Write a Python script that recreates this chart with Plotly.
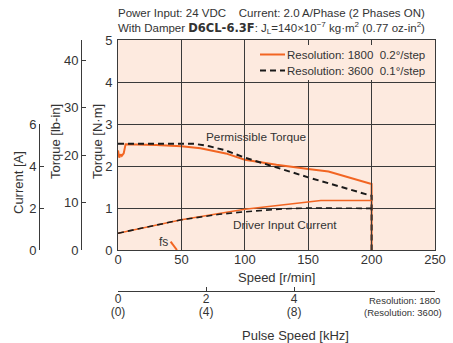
import plotly.graph_objects as go

# ---- data -------------------------------------------------------------
# Pull-out torque [N·m] vs speed [r/min]
speed_1800 = [0, 1, 2, 3, 4.5, 6, 30, 50, 65, 85, 100, 125, 150, 166, 200, 200]
torque_1800 = [2.37, 2.20, 2.28, 2.24, 2.30, 2.52, 2.50, 2.47, 2.42, 2.30, 2.15, 2.03, 1.93, 1.87, 1.57, 0]
speed_3600 = [0, 60, 72, 85, 100, 125, 150, 175, 200, 200]
torque_3600 = [2.53, 2.53, 2.47, 2.37, 2.20, 1.96, 1.73, 1.51, 1.29, 0]

# Driver input current [A] vs speed [r/min]
cur_speed_1800 = [0, 50, 100, 150, 160, 200]
current_1800 = [0.80, 1.44, 1.94, 2.30, 2.36, 2.36]
cur_speed_3600 = [0, 50, 80, 100, 130, 150, 200]
current_3600 = [0.80, 1.44, 1.70, 1.82, 1.96, 2.00, 1.98]

# Starting pulse rate (fs) mark
fs_speed = [41.5, 46.5]
fs_torque = [0.2, 0]

speed_ticks = [0, 50, 100, 150, 200, 250]
torque_ticks = [0, 1, 2, 3, 4, 5]
lbin_ticks = [0, 10, 20, 30, 40]
current_ticks = [0, 2, 4, 6]
pulse_ticks = [0, 2, 4]
pulse_labels_1800 = ["0", "2", "4"]
pulse_labels_3600 = ["(0)", "(4)", "(8)"]

NM_TO_LBIN = 8.8507

# ---- style ------------------------------------------------------------
ORANGE = "#F26522"
BLACK = "#1a1a1a"
TXT = "#333333"
GRID = "#3a3a3a"
BG = "#FDEADF"
FONT = "Liberation Sans, Arial, sans-serif"

W, H = 453, 343
ML, MR, MT, MB = 0, 18, 40, 0
PW, PH = W - ML - MR, H - MT - MB


def px(x):
    return (x - ML) / PW


def py(y):
    return (H - MB - y) / PH


XD0 = px(118)
YD0 = py(250)
YD_CUR_TOP = py(124)

fig = go.Figure()

fig.add_trace(go.Scatter(x=speed_1800, y=torque_1800, mode="lines",
                         line=dict(color=ORANGE, width=2), showlegend=False))
fig.add_trace(go.Scatter(x=speed_3600, y=torque_3600, mode="lines",
                         line=dict(color=BLACK, width=2, dash="6px,4px"), showlegend=False))
fig.add_trace(go.Scatter(x=fs_speed, y=fs_torque, mode="lines",
                         line=dict(color=ORANGE, width=2), showlegend=False))
fig.add_trace(go.Scatter(x=cur_speed_1800, y=current_1800, yaxis="y4", mode="lines",
                         line=dict(color=ORANGE, width=1.4), showlegend=False))
fig.add_trace(go.Scatter(x=cur_speed_3600, y=current_3600, yaxis="y4", mode="lines",
                         line=dict(color=BLACK, width=1.6, dash="6px,4px"), showlegend=False))
# empty traces so the auxiliary axes are drawn
fig.add_trace(go.Scatter(x=[], y=[], yaxis="y2", showlegend=False))
fig.add_trace(go.Scatter(x=[], y=[], xaxis="x2", showlegend=False))
fig.add_trace(go.Scatter(x=[], y=[], xaxis="x3", showlegend=False))

tickfont = dict(family=FONT, size=13, color=TXT)
pulsefont = dict(family=FONT, size=12, color=TXT)
common = dict(automargin=False, zeroline=False)

fig.update_layout(
    template="none",
    width=W, height=H,
    margin=dict(l=ML, r=MR, t=MT, b=MB, pad=0, autoexpand=False),
    paper_bgcolor="white",
    plot_bgcolor="rgba(0,0,0,0)",
    font=dict(family=FONT, size=12, color=TXT),
    showlegend=False,
    xaxis=dict(domain=[XD0, 1], range=[0, 250], tickvals=speed_ticks,
               showgrid=True, gridcolor=GRID, gridwidth=1,
               showline=True, linecolor=GRID, linewidth=1, mirror=True,
               ticks="", ticklabelstandoff=-3, anchor="y", tickfont=tickfont, **common),
    yaxis=dict(domain=[YD0, 1], range=[0, 5], tickvals=torque_ticks,
               showgrid=True, gridcolor=GRID, gridwidth=1,
               showline=True, linecolor=GRID, linewidth=1, mirror=True,
               ticks="", ticklabelstandoff=2, anchor="x", tickfont=tickfont, **common),
    yaxis2=dict(overlaying="y", anchor="free", position=px(81), side="left",
                range=[0, 5 * NM_TO_LBIN], tickvals=lbin_ticks,
                showgrid=False, showline=True, linecolor=GRID, linewidth=1,
                ticks="inside", ticklen=4, tickcolor=GRID, tickfont=tickfont, **common),
    yaxis4=dict(domain=[YD0, YD_CUR_TOP], anchor="free", position=px(39), side="left",
                range=[0, 6], tickvals=current_ticks,
                showgrid=False, showline=True, linecolor=GRID, linewidth=1,
                ticks="inside", ticklen=4, tickcolor=GRID, tickfont=tickfont, **common),
    # pulse speed scale, resolution 1800 (upper labels)
    xaxis2=dict(overlaying="x", anchor="free", position=py(291), side="bottom",
                range=[0, 7.2], tickvals=pulse_ticks, ticktext=pulse_labels_1800,
                showgrid=False, showline=True, linecolor=GRID, linewidth=1,
                ticks="inside", ticklen=4, tickcolor=GRID, ticklabelstandoff=-3,
                tickfont=pulsefont, **common),
    # same scale, resolution 3600 (bracketed labels)
    xaxis3=dict(overlaying="x", anchor="free", position=py(291), side="bottom",
                range=[0, 7.2], tickvals=pulse_ticks, ticktext=pulse_labels_3600,
                showgrid=False, showline=False, ticks="", ticklabelstandoff=12,
                tickfont=pulsefont, **common),
)

shapes = [
    # plot area fill
    dict(type="rect", xref="paper", yref="paper", x0=XD0, x1=1, y0=YD0, y1=1,
         fillcolor=BG, line=dict(width=0), layer="below"),
    # legend box
    dict(type="rect", xref="paper", yref="paper", x0=px(255), x1=px(434), y0=py(80), y1=py(45),
         fillcolor=BG, line=dict(width=0), layer="above"),
    dict(type="line", xref="paper", yref="paper", x0=px(260), x1=px(285), y0=py(54.5), y1=py(54.5),
         line=dict(color=ORANGE, width=2), layer="above"),
    dict(type="line", xref="paper", yref="paper", x0=px(260), x1=px(285), y0=py(70.5), y1=py(70.5),
         line=dict(color=BLACK, width=2, dash="6px,4px"), layer="above"),
]
fig.update_layout(shapes=shapes)


def note(text, x, y, xanchor="left", size=12, xref="paper", yref="paper", angle=0, yanchor="middle"):
    fig.add_annotation(text=text, x=x, y=y, xref=xref, yref=yref, xanchor=xanchor,
                       yanchor=yanchor, showarrow=False, textangle=angle, borderpad=0,
                       font=dict(family=FONT, size=size, color=TXT))


note("Power Input: 24 VDC    Current: 2.0 A/Phase (2 Phases ON)", px(117), py(13), size=11.5)
note("With Damper <span style='font-family:DejaVu Sans'><b>D6CL-6.3F</b></span>: "
     "J<sub>L</sub>=140×10<sup>−7</sup> kg·m<sup>2</sup> (0.77 oz-in<sup>2</sup>)", px(117), py(28), size=11.5)

note("Resolution: 1800  0.2°/step", px(286), py(55), size=11.5)
note("Resolution: 3600  0.1°/step", px(286), py(71), size=11.5)

note("Permissible Torque", 68.5, 2.68, xref="x", yref="y", size=11.8)
note("Driver Input Current", 90, 0.6, xref="x", yref="y", size=11.8)
note("fs", 36, 0.2, xanchor="center", xref="x", yref="y")

note("Speed [r/min]", px(276), py(277), xanchor="center", size=13)
note("Pulse Speed [kHz]", px(295), py(335), xanchor="center", size=13)
note("Resolution: 1800", px(441), py(300), xanchor="right", size=9.5)
note("(Resolution: 3600)", px(443), py(312), xanchor="right", size=9.5)

note("Torque [N·m]", px(97), py(142), xanchor="center", size=13, angle=-90)
note("Torque [lb-in]", px(55), py(142), xanchor="center", size=13, angle=-90)
note("Current [A]", px(18), py(183), xanchor="center", size=13, angle=-90)

fig.write_html("out.html")
